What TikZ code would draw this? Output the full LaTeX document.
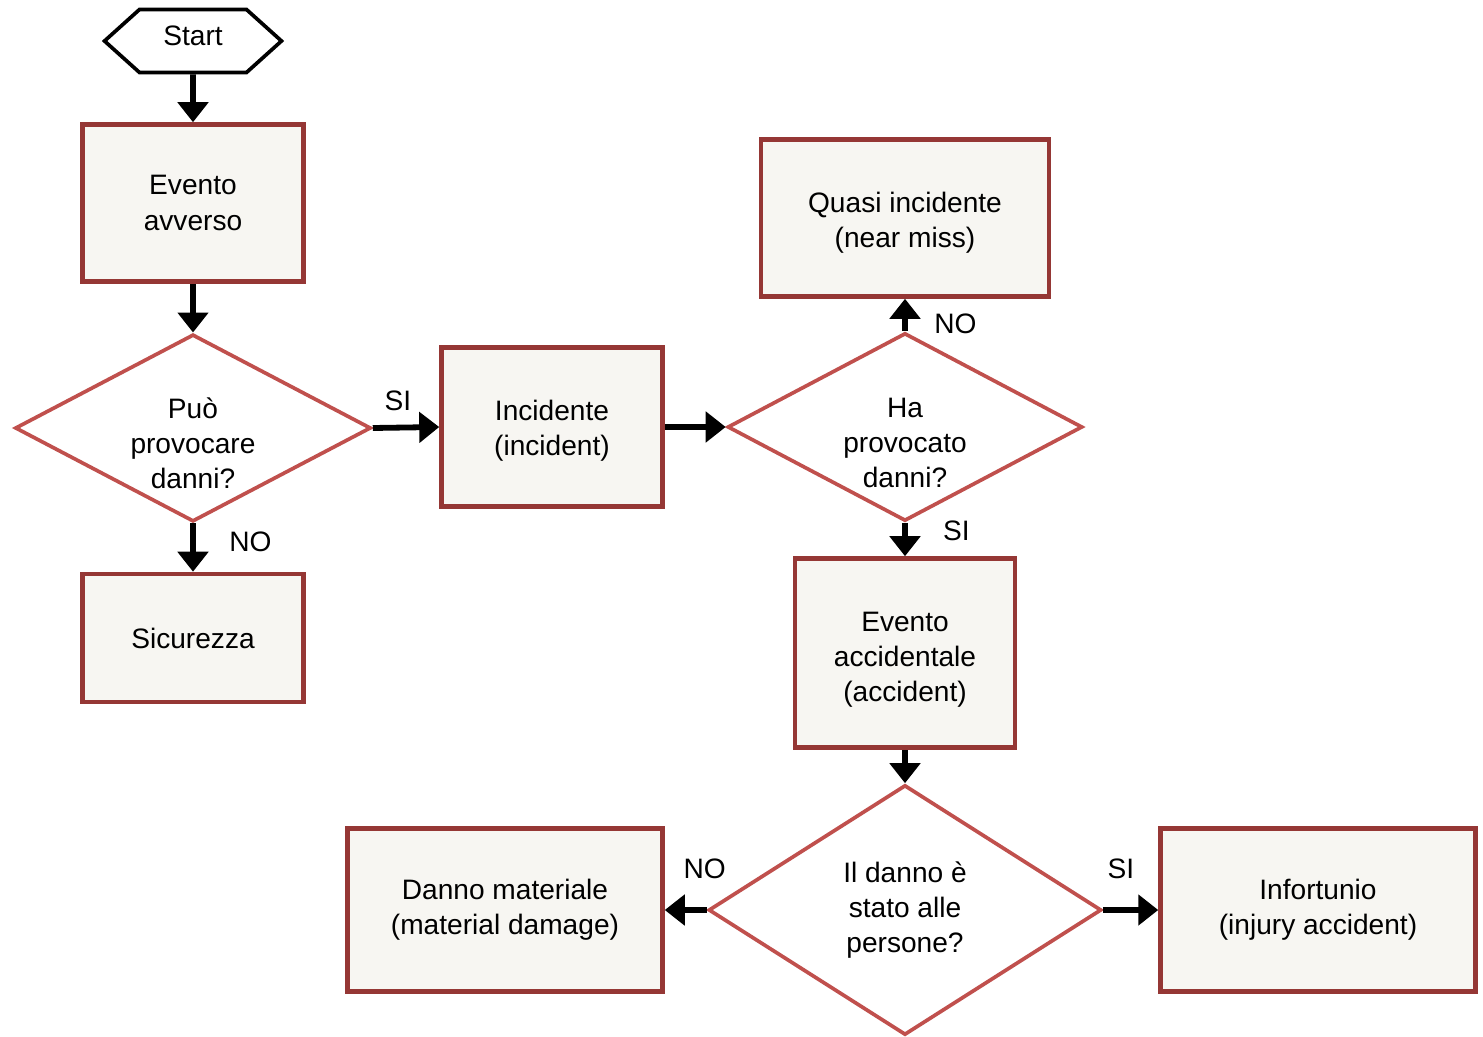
\documentclass[tikz,border=0pt]{standalone}
\usepackage{fontspec}
\setmainfont{Liberation Sans}
\usetikzlibrary{positioning}
\usetikzlibrary{shapes.geometric}
\usetikzlibrary{shapes.symbols}
\usetikzlibrary{arrows.meta}
\definecolor{boxred}{HTML}{953735}
\definecolor{diared}{HTML}{C0504D}
\definecolor{boxfill}{HTML}{F7F6F2}
\tikzset{txt/.style={font=\fontsize{16}{20}\selectfont}}
\tikzset{box/.style={txt,draw=boxred, line width=2.6pt, fill=boxfill, align=center, inner sep=0pt}}
\tikzset{dia/.style={txt,draw=diared, diamond, aspect=1.9, line width=2.1pt, fill=white, align=center, inner sep=0pt}}
\tikzset{hexa/.style={txt,draw, signal, signal to=west and east, signal pointer angle=84, line width=2.1pt, fill=white, inner sep=0pt}}
\tikzset{arr/.style={line width=3.3pt, -{Triangle[length=0.4cm,width=0.6cm]}}}
\tikzset{lbl/.style={txt, inner sep=2pt}}

\begin{document}
\begin{tikzpicture}[x=0.02cm, y=-0.02cm]
    \useasboundingbox (0,0) rectangle (1483,1037);

    \node[hexa, minimum width=3.54cm, minimum height=1.26cm, text depth=5.5pt] (start) at (193,41) {Start};
    \node[box, minimum width=4.42cm, minimum height=3.14cm] (ev) at (193,203) {Evento\\avverso};
    \node[dia, minimum width=7.08cm, minimum height=3.74cm, text height=69pt] (d1) at (193,428) {Può\\provocare\\danni?};
    \node[box, minimum width=4.42cm, minimum height=2.56cm] (sic) at (193,638) {Sicurezza};
    \node[box, minimum width=4.42cm, minimum height=3.18cm, text height=36pt] (inc) at (552,427) {Incidente\\(incident)};

    \node[dia, minimum width=7.1cm, minimum height=3.76cm, text height=69pt] (d2) at (905,427) {Ha\\provocato\\danni?};
    \node[box, minimum width=5.76cm, minimum height=3.14cm, text height=36.7pt] (qi) at (905,218) {Quasi incidente\\(near miss)};
    \node[box, minimum width=4.4cm, minimum height=3.78cm, text height=58.5pt] (acc) at (905,653) {Evento\\accidentale\\(accident)};

    \node[dia, minimum width=7.86cm, minimum height=5cm] (d3) at (905,910) {Il danno è\\stato alle\\persone?};
    \node[box, minimum width=6.3cm, minimum height=3.26cm] (dm) at (505,910) {Danno materiale\\(material damage)};
    \node[box, minimum width=6.3cm, minimum height=3.26cm] (inf) at (1318,910) {Infortunio\\(injury accident)};

    \draw [arr] (start) -- (ev);
    \draw [arr] (ev) -- (d1);
    \draw [arr] (d1.east) -- node[lbl, above=6pt, xshift=-0.16cm] {SI} (inc.west);
    \draw [arr] (d1.south) -- node[lbl, right=17pt, yshift=0.12cm] {NO} (sic.north);
    \draw [arr] (inc.east) -- (d2.west);

    \draw [arr] (d2.north) -- node[lbl, right=13pt, yshift=-0.18cm] {NO} (qi.south);
    \draw [arr] (d2.south) -- node[lbl, right=18pt, yshift=0.18cm] {SI} (acc.north);
    \draw [arr] (acc.south) -- (d3.north);

    \draw [arr] (d3.west) -- node[lbl, above=14pt, xshift=0.38cm] {NO} (dm.east);
    \draw [arr] (d3.east) -- node[lbl, above=14pt, xshift=-0.2cm] {SI} (inf.west);
\end{tikzpicture}
\end{document}
